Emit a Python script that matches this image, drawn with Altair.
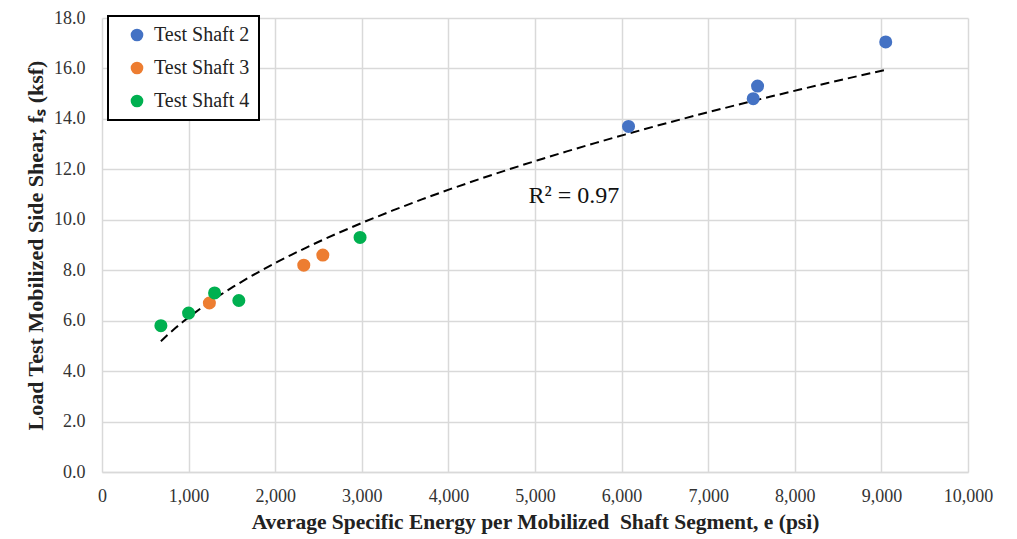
import altair as alt
import pandas as pd

shaft2_e = [6080, 7520, 7570, 9050]
shaft2_fs = [13.7, 14.8, 15.3, 17.05]
shaft3_e = [1240, 2330, 2550]
shaft3_fs = [6.7, 8.2, 8.6]
shaft4_e = [680, 1000, 1300, 1580, 2980]
shaft4_fs = [5.8, 6.3, 7.1, 6.8, 9.3]

series = ["Test Shaft 2", "Test Shaft 3", "Test Shaft 4"]
colors = ["#4472C4", "#ED7D31", "#00B050"]

rows = []
for name, es, fs in [(series[0], shaft2_e, shaft2_fs), (series[1], shaft3_e, shaft3_fs), (series[2], shaft4_e, shaft4_fs)]:
    for e, f in zip(es, fs):
        rows.append({"e": e, "fs": f, "series": name})
df = pd.DataFrame(rows)

r2_text = ["R\u00b2 = 0.97"]
r2_x = [5450]
r2_y = [10.95]
ann = pd.DataFrame({"e": r2_x, "fs": r2_y, "t": r2_text})

FONT = "Liberation Serif"

xscale = alt.Scale(domain=[0, 10000], nice=False)
yscale = alt.Scale(domain=[0, 18], nice=False)

xaxis = alt.Axis(values=list(range(0, 10001, 1000)), format=",d",
                 title="Average Specific Energy per Mobilized\u00a0 Shaft Segment, e (psi)",
                 titleFontSize=21.5,
                 grid=True, ticks=False, labelFlush=False, labelPadding=15, titlePadding=6)
yaxis = alt.Axis(values=list(range(0, 19, 2)), format=".1f",
                 title="Load Test Mobilized Side Shear, f\u209b (ksf)",
                 titleFontSize=22,
                 grid=True, ticks=False, labelFlush=False, labelPadding=17, titlePadding=6)

base = alt.Chart(df)

points = base.mark_circle(size=170, opacity=1).encode(
    x=alt.X("e:Q", scale=xscale, axis=xaxis),
    y=alt.Y("fs:Q", scale=yscale, axis=yaxis),
    color=alt.Color("series:N", scale=alt.Scale(domain=series, range=colors),
                    legend=alt.Legend(title=None, orient="none", legendX=6, legendY=-2,
                                      symbolType="circle", symbolSize=160,
                                      symbolOffset=10, labelOffset=7,
                                      labelFontSize=20, labelFont=FONT, labelColor="#222",
                                      rowPadding=13, padding=9,
                                      strokeColor="#000", fillColor="white",
                                      labelLimit=300)),
)

trend = base.transform_regression("e", "fs", method="pow").mark_line(
    color="black", strokeDash=[9, 5], strokeWidth=2
).encode(x=alt.X("e:Q", scale=xscale), y=alt.Y("fs:Q", scale=yscale))

label = alt.Chart(ann).mark_text(font=FONT, fontSize=24, color="#111").encode(
    x=alt.X("e:Q", scale=xscale), y=alt.Y("fs:Q", scale=yscale), text="t:N"
)

chart = alt.layer(trend, points, label).properties(
    width=866, height=454,
    autosize=alt.AutoSizeParams(type="none"),
    padding={"left": 94, "top": 10, "right": 30, "bottom": 66},
).configure(font=FONT).configure_view(stroke=None).configure_axis(
    labelFont=FONT, labelFontSize=18, labelColor="#333",
    titleFont=FONT, titleFontWeight="bold", titleColor="#222",
    gridColor="#D9D9D9", gridWidth=1.5, domainColor="#D9D9D9", domainWidth=1.5
).configure_axisY(domain=False).configure_legend(
    strokeWidth=2, labelFont=FONT, labelFontSize=20
)

chart.save("out.html", embed_options={"renderer": "svg", "actions": False})
